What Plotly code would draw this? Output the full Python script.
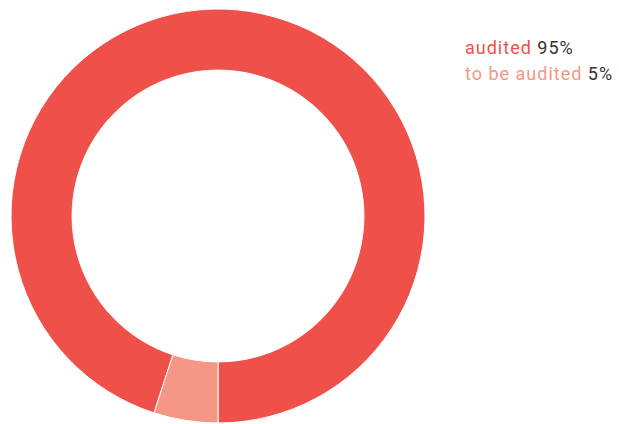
import plotly.graph_objects as go

# Audit status shares
labels = ["audited", "to be audited"]
values = [95, 5]
colors = ["#F0504A", "#F59786"]

W, H = 619, 424

fig = go.Figure(
    go.Pie(
        labels=labels,
        values=values,
        hole=0.705,
        sort=False,
        direction="clockwise",
        rotation=198,
        textinfo="none",
        marker=dict(colors=colors, line=dict(color="white", width=1)),
        domain=dict(x=[11 / W, 425 / W], y=[1 / H, 415 / H]),
        showlegend=False,
    )
)

# Custom legend: coloured label followed by the share in dark text
total = sum(values)
legend_y = [47.5, 73.5]
for lab, val, col, yp in zip(labels, values, colors, legend_y):
    pct = round(100 * val / total)
    fig.add_annotation(
        x=463 / W,
        y=1 - yp / H,
        xref="paper",
        yref="paper",
        xanchor="left",
        yanchor="middle",
        showarrow=False,
        text=(
            f'<span style="letter-spacing:1px">'
            f'<span style="color:{col}">{lab}</span> {pct}%</span>'
        ),
        font=dict(family="Roboto", size=18, color="#333333"),
    )

fig.update_layout(
    width=W,
    height=H,
    margin=dict(l=0, r=0, t=0, b=0),
    paper_bgcolor="white",
    plot_bgcolor="white",
)

fig.write_html("out.html")
